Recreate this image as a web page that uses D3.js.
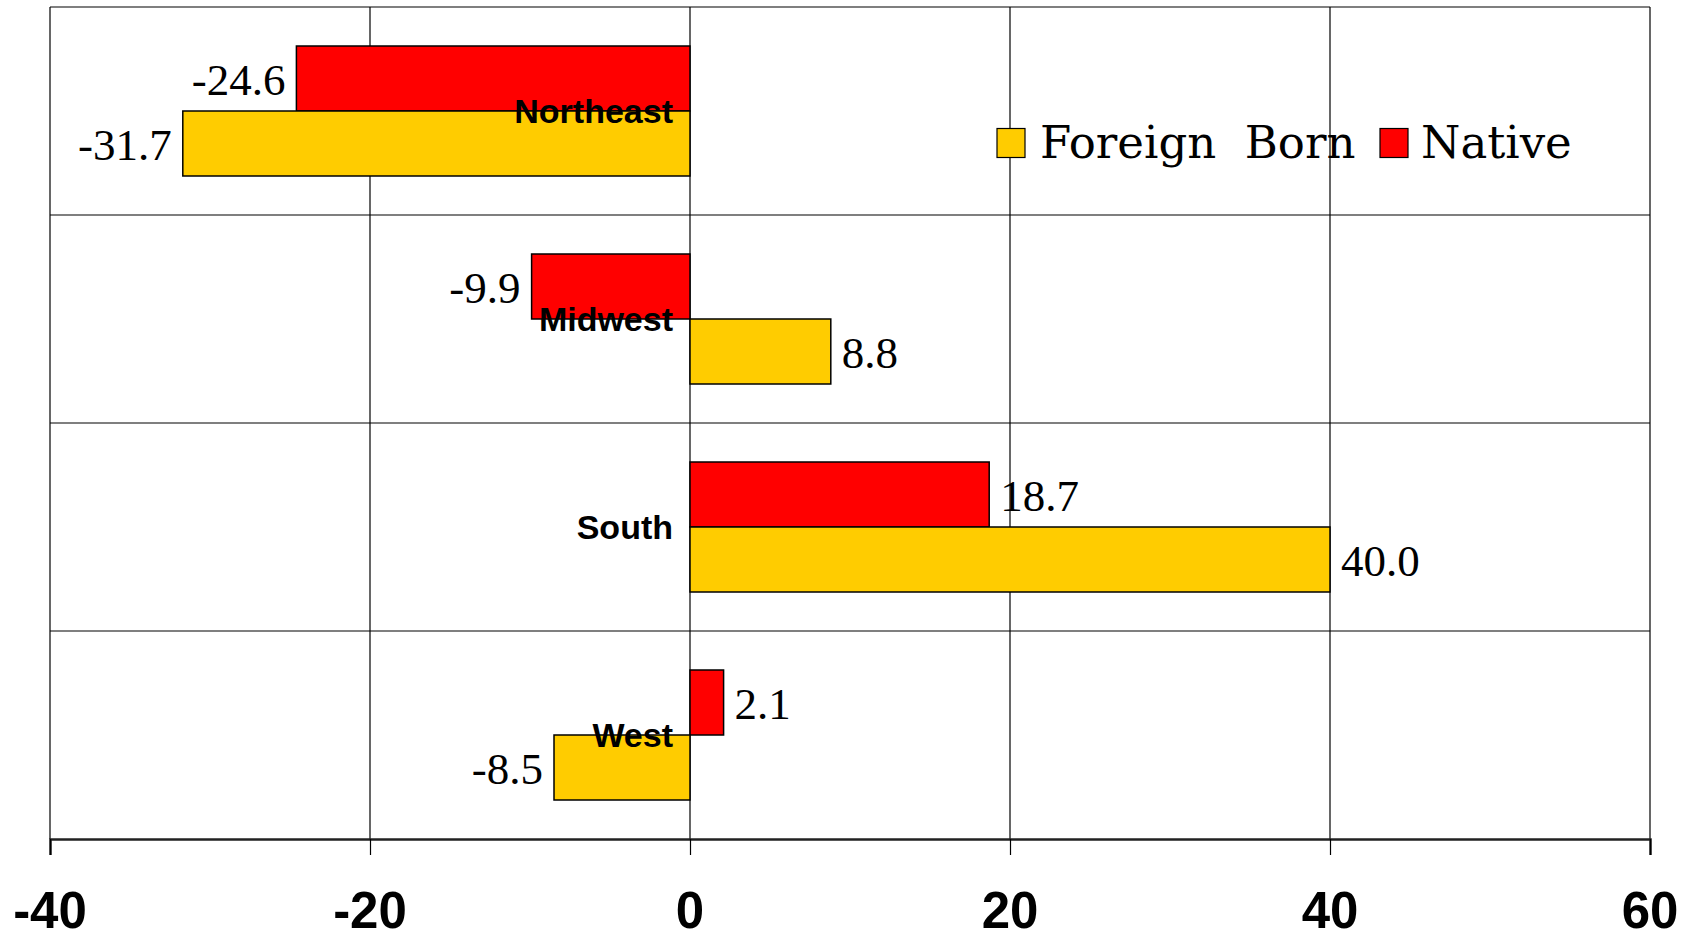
<!DOCTYPE html>
<html>
<head>
<meta charset="utf-8">
<script src="https://cdn.jsdelivr.net/npm/d3@7"></script>
<style>
  html, body { margin: 0; padding: 0; background: #fff; }
  svg { display: block; }
</style>
</head>
<body>
<svg id="chart" width="1690" height="939"></svg>
<script>
// Population change by region, percent
const regions = ["Northeast", "Midwest", "South", "West"];
const seriesNames = ["Native", "Foreign  Born"];
const nativeValues = [-24.6, -9.9, 18.7, 2.1];
const foreignValues = [-31.7, 8.8, 40.0, -8.5];
const xTicks = [-40, -20, 0, 20, 40, 60];
const xTickLabels = ["-40", "-20", "0", "20", "40", "60"];

const colors = { "Native": "#FF0000", "Foreign  Born": "#FFCC00" };

const svg = d3.select("#chart");
const margin = { top: 7, left: 50 };
const plotW = 1600, plotH = 832;

const g = svg.append("g").attr("transform", `translate(${margin.left},${margin.top})`);

const x = d3.scaleLinear().domain([-40, 60]).range([0, plotW]);
const y = d3.scaleBand().domain(regions).range([0, plotH]);

// two bars per region, gap between groups 1.2 bar widths
const barH = y.bandwidth() / 3.2;
const barOffset = (y.bandwidth() - 2 * barH) / 2;

// vertical gridlines
g.append("g").selectAll("line").data(xTicks).join("line")
  .attr("x1", d => x(d)).attr("x2", d => x(d))
  .attr("y1", 0).attr("y2", plotH)
  .attr("stroke", "#000").attr("stroke-width", 1.2);

// horizontal separators between regions
g.append("g").selectAll("line").data(regions).join("line")
  .attr("x1", 0).attr("x2", plotW)
  .attr("y1", d => y(d)).attr("y2", d => y(d))
  .attr("stroke", "#000").attr("stroke-width", 1.2);

// bars with value labels
const rows = regions.map((r, i) => ({
  region: r,
  bars: [
    { series: "Native", value: nativeValues[i], slot: 0 },
    { series: "Foreign  Born", value: foreignValues[i], slot: 1 }
  ]
}));

const barG = g.append("g");
rows.forEach(row => {
  row.bars.forEach(b => {
    const top = y(row.region) + barOffset + b.slot * barH;
    barG.append("rect")
      .attr("x", x(Math.min(0, b.value)))
      .attr("y", top)
      .attr("width", Math.abs(x(b.value) - x(0)))
      .attr("height", barH)
      .attr("fill", colors[b.series])
      .attr("stroke", "#000").attr("stroke-width", 1.5);
    barG.append("text")
      .attr("x", b.value < 0 ? x(b.value) - 11 : x(b.value) + 11)
      .attr("y", top + barH / 2 + 16.5)
      .attr("text-anchor", b.value < 0 ? "end" : "start")
      .attr("font-family", "'Liberation Serif', serif")
      .attr("font-size", 45)
      .attr("fill", "#000")
      .text(b.value.toFixed(1));
  });
});

// region labels sit at the zero line
g.append("g").selectAll("text").data(regions).join("text")
  .attr("x", x(0) - 17)
  .attr("y", d => y(d) + y.bandwidth() / 2 + 12)
  .attr("text-anchor", "end")
  .attr("font-family", "'Liberation Sans', Arial, sans-serif")
  .attr("font-weight", "bold")
  .attr("font-size", 34)
  .attr("fill", "#000")
  .text(d => d);

// x axis line and ticks
const xAxis = d3.axisBottom(x).tickValues(xTicks).tickSize(16).tickFormat("");
const ax = g.append("g").attr("transform", `translate(0,${plotH})`).call(xAxis);
ax.select(".domain").attr("stroke", "#222").attr("stroke-width", 2.5);
ax.selectAll(".tick line").attr("stroke", "#000").attr("stroke-width", 1.2);
ax.selectAll(".tick text").remove();

// x tick labels
g.append("g").selectAll("text").data(xTicks).join("text")
  .attr("x", d => x(d))
  .attr("y", plotH + 89)
  .attr("text-anchor", "middle")
  .attr("font-family", "'Liberation Sans', Arial, sans-serif")
  .attr("font-weight", "bold")
  .attr("font-size", 51)
  .attr("fill", "#000")
  .text((d, i) => xTickLabels[i]);

// legend
const legendItems = [
  { name: "Foreign  Born", sx: 997, tx: 1040 },
  { name: "Native", sx: 1380, tx: 1421 }
];
const lg = svg.append("g");
legendItems.forEach(it => {
  lg.append("rect")
    .attr("x", it.sx).attr("y", 128.5)
    .attr("width", 28).attr("height", 29)
    .attr("fill", colors[it.name])
    .attr("stroke", "#000").attr("stroke-width", 1.2);
  lg.append("text")
    .attr("x", it.tx).attr("y", 158)
    .attr("font-family", "'DejaVu Serif', serif")
    .attr("font-size", 45)
    .attr("fill", "#000")
    .style("white-space", "pre")
    .text(it.name);
});
</script>
</body>
</html>
